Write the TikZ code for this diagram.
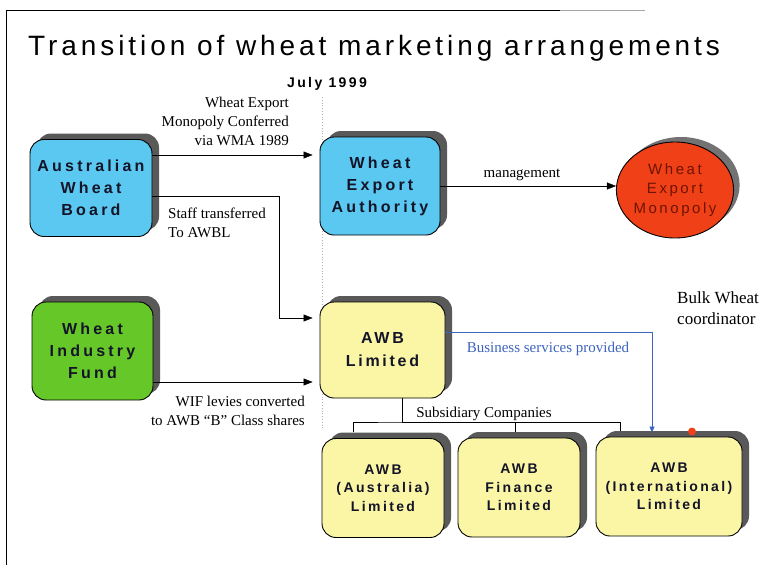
\documentclass[tikz,border=0pt]{standalone}
\usepackage{fontspec}
\setmainfont{Liberation Serif}
\setsansfont{Liberation Sans}
\newfontfamily\titlefont{Liberation Sans}[LetterSpace=14]
\newfontfamily\boxfont{Liberation Sans}[LetterSpace=20]
\newfontfamily\subfont{Liberation Sans}[LetterSpace=17]
\usetikzlibrary{arrows.meta,shadows,shapes.geometric}

\definecolor{awbblue}{RGB}{90,200,240}
\definecolor{wifgreen}{RGB}{102,200,40}
\definecolor{monored}{RGB}{240,64,24}
\definecolor{monotext}{RGB}{110,20,0}
\definecolor{awbyellow}{RGB}{250,246,165}
\definecolor{servblue}{RGB}{60,100,190}
\definecolor{boxtext}{RGB}{20,20,40}

\begin{document}
\begin{tikzpicture}[x=1pt, y=-1pt, >={Triangle[length=9pt,width=7pt]},
  box/.style={draw=black, line width=0.9pt, rounded corners=14pt, inner sep=0pt,
    align=center, text=boxtext,
    drop shadow={shadow xshift=7pt, shadow yshift=6pt, fill=black!65, opacity=1}},
  bigbox/.style={box, minimum width=122pt, minimum height=97pt,
    font={\boxfont\bfseries\fontsize{16}{22}\selectfont}},
  subbox/.style={box, minimum width=122pt, minimum height=99pt,
    font={\subfont\bfseries\fontsize{14}{18.5}\selectfont}},
  lbl/.style={font={\fontsize{15}{19}\selectfont}, inner sep=0pt},
]
\useasboundingbox (0,0) rectangle (763,565);
\clip (0,0) rectangle (763,565);

% page frame
\draw[line width=0.9pt] (6,565) -- (6,10) -- (560,10);
\draw[black!35] (560,10) -- (645,10);

\node[font={\titlefont\fontsize{28}{34}\selectfont}, anchor=base west, inner sep=0pt]
  (title) at (28,55) {Transition of wheat marketing arrangements};
\node[font={\subfont\bfseries\fontsize{14}{17}\selectfont}, anchor=base, inner sep=0pt]
  (july) at (327,87) {July 1999};
\draw[black!30, dotted, line width=0.8pt] (322,97) -- (322,428);

% boards and companies
\node[bigbox, fill=awbblue] (awbb) at (91,188) {Australian\\Wheat\\Board};
\node[bigbox, fill=awbblue, minimum width=120pt, minimum height=98pt]
  (wea) at (380,186) {Wheat\\Export\\Authority};
\node[ellipse, draw=black, line width=0.9pt, fill=monored, minimum width=116pt,
  minimum height=96pt, inner sep=0pt, align=center, text=monotext,
  font={\subfont\fontsize{15}{19.5}\selectfont},
  drop shadow={shadow xshift=6pt, shadow yshift=5pt, fill=black!55, opacity=1}]
  (wem) at (675,190) {Wheat\\Export\\Monopoly};
\node[bigbox, fill=wifgreen, minimum width=121pt, minimum height=98pt]
  (wif) at (92.5,351) {Wheat\\Industry\\Fund};
\node[bigbox, fill=awbyellow, minimum width=125pt, minimum height=96pt,
  font={\subfont\bfseries\fontsize{16}{23}\selectfont}]
  (awbl) at (382.5,350) {AWB\\Limited};
\node[subbox, fill=awbyellow] (awba) at (383,488) {AWB\\(Australia)\\Limited};
\node[subbox, fill=awbyellow] (awbf) at (519,487.5) {AWB\\Finance\\Limited};
\node[subbox, fill=awbyellow, minimum width=146pt] (awbi) at (669,486.5)
  {AWB\\(International)\\Limited};

% connectors
\draw[->, shorten >=7pt] ([yshift=33pt]awbb.east) -- ([yshift=33pt]awbb.east -| wea.west);
\draw[->, shorten >=7pt] ([yshift=-8pt]awbb.east) -| ([xshift=-40pt,yshift=32pt]awbl.west)
  -- ([yshift=32pt]awbl.west);
\draw[->, shorten >=7pt] ([yshift=-31pt]wif.east) -- ([yshift=-31pt]wif.east -| awbl.west);
\draw[->] (wea.east) -- (wea.east -| wem.west);
\draw[servblue, -{Triangle[length=6pt,width=5pt]}, shorten >=4pt]
  ([yshift=18pt]awbl.east) -| ([xshift=-17pt]awbi.north);
\fill[monored] ([xshift=23pt,yshift=5pt]awbi.north) circle (4pt);

\coordinate (split) at (402,422);
\draw ([xshift=19.5pt]awbl.south) -- (split);
\draw ([xshift=-30pt,yshift=6pt]awba.north) |- (split) -| ([xshift=-49pt,yshift=6pt]awbi.north);
\draw ([xshift=-4pt,yshift=6pt]awbf.north) |- (split);

% labels
\node[lbl, align=right, anchor=north east] (conflbl) at (289,97)
  {Wheat Export\\Monopoly Conferred\\via WMA 1989};
\node[lbl, align=left, anchor=north west] (stafflbl) at (168,208)
  {Staff transferred\\To AWBL};
\node[lbl, align=right, anchor=north east] (wiflbl) at (305,396)
  {WIF levies converted\\to AWB “B” Class shares};
\node[lbl, anchor=base] (mgmtlbl) at (522,177) {management};
\node[lbl, anchor=base, text=servblue] (servlbl) at (548,352) {Business services provided};
\node[lbl, anchor=base] (sublbl) at (484,417) {Subsidiary Companies};
\node[lbl, align=left, anchor=north west, font={\fontsize{17}{21}\selectfont}]
  (bulklbl) at (677,292) {Bulk Wheat\\coordinator};
\end{tikzpicture}
\end{document}
